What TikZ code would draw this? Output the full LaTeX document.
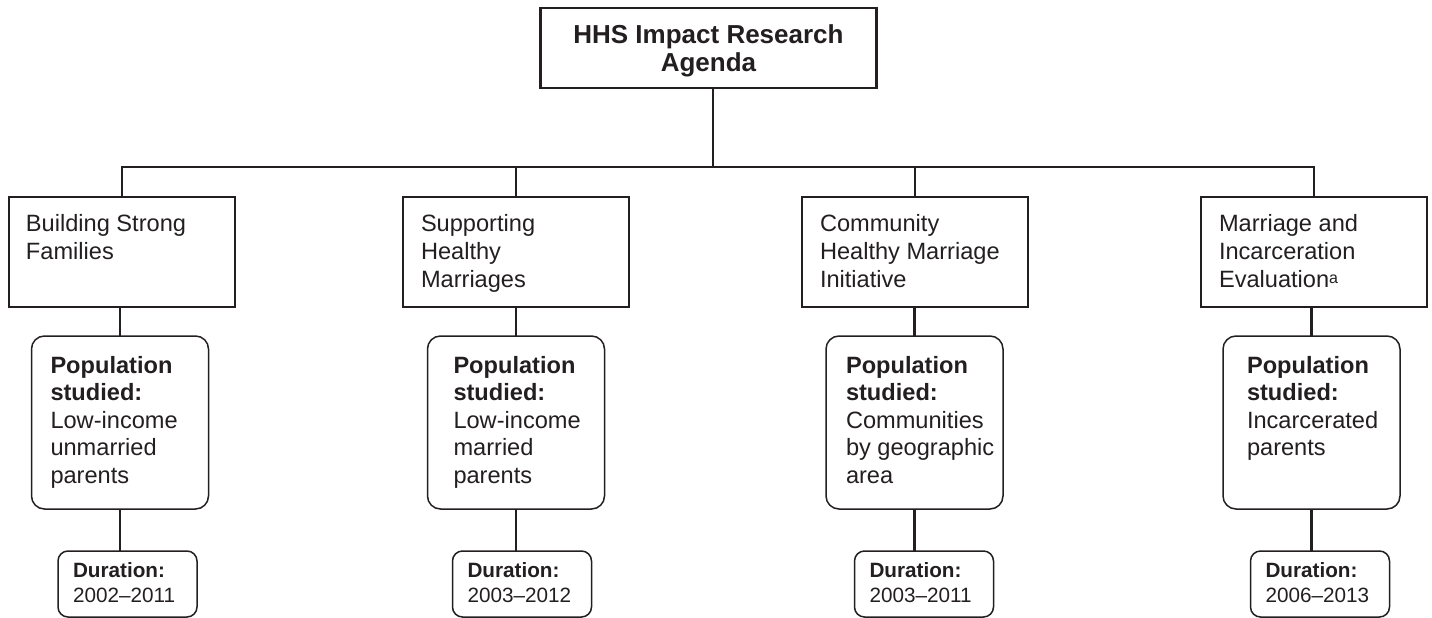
\documentclass[tikz,border=0pt]{standalone}
\usepackage{fontspec}
\setmainfont{Liberation Sans}
\definecolor{ink}{HTML}{231F20}
\newcommand{\bx}[5]{\parbox[c][#2][t]{#1}{\leftskip=#3\relax\rightskip=0pt plus 1fil\relax\parfillskip=0pt\relax\rule{0pt}{#4}#5}}
\newcommand{\cbx}[4]{\parbox[c][#2][t]{#1}{\centering\rule{0pt}{#3}#4}}
\newcommand{\supa}{\raisebox{4pt}{\fontsize{16}{16}\selectfont a}}
\begin{document}
\begin{tikzpicture}[x=1pt,y=-1pt,
  every node/.style={inner sep=0pt, outer sep=0pt, text=ink},
  topbox/.style={draw=ink, line width=2.7pt, minimum width=336pt, minimum height=80pt,
    font=\fontsize{26}{28}\selectfont\bfseries},
  progbox/.style={draw=ink, line width=1.6pt, minimum width=226pt, minimum height=110pt,
    font=\fontsize{23.6}{28}\selectfont},
  popbox/.style={draw=ink, line width=1.5pt, rounded corners=13pt, minimum width=177pt, minimum height=173pt,
    font=\fontsize{23.6}{27.6}\selectfont},
  durbox/.style={draw=ink, line width=1.5pt, rounded corners=10pt, minimum width=139pt, minimum height=66pt,
    font=\fontsize{20.7}{25}\selectfont},
  conn/.style={draw=ink, line width=2.3pt}]
\useasboundingbox (0,0) rectangle (1432,618);

% title
\node[topbox] (top) at (708.5,48) {\cbx{336pt}{80pt}{36pt}{HHS Impact Research\\Agenda}};
\coordinate (j) at (713,167);

% program boxes
\node[progbox] (p1) at (122,252) {\bx{226pt}{110pt}{17pt}{34pt}{Building Strong\\Families}};
\node[progbox] (p2) at (516,252) {\bx{226pt}{110pt}{18pt}{34pt}{Supporting\\Healthy\\Marriages}};
\node[progbox] (p3) at (915,252) {\bx{226pt}{110pt}{18pt}{34pt}{Community\\Healthy Marriage\\Initiative}};
\node[progbox] (p4) at (1314,252) {\bx{226pt}{110pt}{18pt}{34pt}{Marriage and\\Incarceration\\Evaluation\supa}};

% population boxes
\node[popbox] (q1) at (120,422.5) {\bx{177pt}{173pt}{19pt}{37pt}{\textbf{Population}\\\textbf{studied:}\\Low-income\\unmarried\\parents}};
\node[popbox] (q2) at (516,422.5) {\bx{177pt}{173pt}{26pt}{37pt}{\textbf{Population}\\\textbf{studied:}\\Low-income\\married\\parents}};
\node[popbox] (q3) at (914.5,422.5) {\bx{177pt}{173pt}{20pt}{37pt}{\textbf{Population}\\\textbf{studied:}\\Communities\\by geographic\\area}};
\node[popbox] (q4) at (1311.5,422.5) {\bx{177pt}{173pt}{24pt}{37pt}{\textbf{Population}\\\textbf{studied:}\\Incarcerated\\parents}};

% duration boxes
\node[durbox] (d1) at (127.5,584) {\bx{139pt}{66pt}{15pt}{26pt}{\textbf{Duration:}\\2002--2011}};
\node[durbox] (d2) at (522,584) {\bx{139pt}{66pt}{15pt}{26pt}{\textbf{Duration:}\\2003--2012}};
\node[durbox] (d3) at (924,584) {\bx{139pt}{66pt}{15pt}{26pt}{\textbf{Duration:}\\2003--2011}};
\node[durbox] (d4) at (1320,584) {\bx{139pt}{66pt}{15pt}{26pt}{\textbf{Duration:}\\2006--2013}};

% connectors
\draw[conn] (top.south -| j) -- (j);
\draw[conn] (p1.north) -- (p1.north |- j) -- (p4.north |- j) -- (p4.north);
\draw[conn] (p2.north |- j) -- (p2.north);
\draw[conn] (p3.north |- j) -- (p3.north);
\foreach \i in {1,2,3,4}{
  \draw[conn] (q\i.north |- p\i.south) -- (q\i.north);
  \draw[conn] (q\i.south) -- (q\i.south |- d\i.north);
}
\end{tikzpicture}
\end{document}
